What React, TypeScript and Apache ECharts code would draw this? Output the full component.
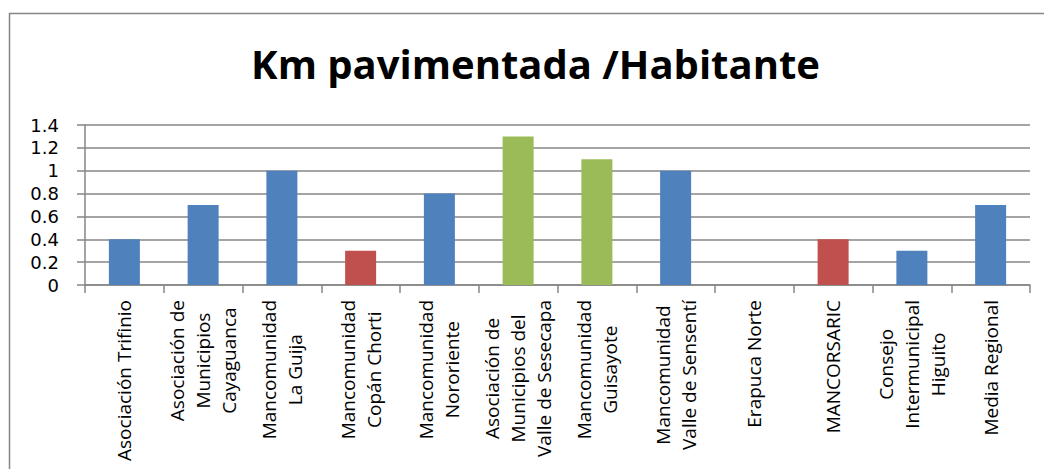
import React, { useEffect, useRef } from "react";
import * as echarts from "echarts";

const title = "Km pavimentada /Habitante";

const categories = [
  "Asociación Trifinio",
  "Asociación de\nMunicipios\nCayaguanca",
  "Mancomunidad\nLa Guija",
  "Mancomunidad\nCopán Chorti",
  "Mancomunidad\nNororiente",
  "Asociación de\nMunicipios del\nValle de Sesecapa",
  "Mancomunidad\nGuisayote",
  "Mancomunidad\nValle de Sensentí",
  "Erapuca Norte",
  "MANCORSARIC",
  "Consejo\nIntermunicipal\nHiguito",
  "Media Regional",
];

const values = [0.4, 0.7, 1.0, 0.3, 0.8, 1.3, 1.1, 1.0, 0, 0.4, 0.3, 0.7];

const groups = ["blue", "blue", "blue", "red", "blue", "green", "green", "blue", "blue", "red", "blue", "blue"];

const yTicks = [0, 0.2, 0.4, 0.6, 0.8, 1, 1.2, 1.4];

const palette: Record<string, string> = {
  blue: "#4F81BD",
  red: "#C0504D",
  green: "#9BBB59",
};

const FONT = "'Open Sans', 'Noto Sans', sans-serif";
const YFONT = "'DejaVu Sans', 'Open Sans', sans-serif";

export default function App() {
  const ref = useRef<HTMLDivElement>(null);
  useEffect(() => {
    document.body.style.margin = "0";
    if (!ref.current) return;
    const chart = echarts.init(ref.current, undefined, { renderer: "svg" });
    const step = yTicks[1] - yTicks[0];
    chart.setOption({
      animation: false,
      backgroundColor: "#ffffff",
      graphic: [
        {
          type: "rect",
          shape: { x: 9.5, y: 13.5, width: 1200, height: 600 },
          style: { fill: "none", stroke: "#868686", lineWidth: 1.5 },
          silent: true,
          z: 0,
        },
        {
          type: "text",
          x: 535.5,
          y: 63,
          style: {
            text: title,
            fontFamily: FONT,
            fontWeight: "bold",
            fontSize: 40,
            fill: "#000000",
            align: "center",
            verticalAlign: "middle",
          },
        },
      ],
      grid: { left: 85, right: 14, top: 125, bottom: 184, containLabel: false },
      xAxis: {
        type: "category",
        data: categories,
        axisLine: { show: true, lineStyle: { color: "#868686", width: 1.5 } },
        axisTick: { show: true, length: 8, lineStyle: { color: "#868686", width: 1.5 } },
        axisLabel: {
          interval: 0,
          rotate: 90,
          margin: 15,
          color: "#000000",
          fontFamily: FONT,
          fontSize: 19,
          lineHeight: 26,
          formatter: (v: string) =>
            v
              .split("\n")
              .map((l) => `{c|${l}}`)
              .join("\n"),
          rich: {
            c: {
              align: "center",
              fontFamily: FONT,
              fontSize: 19,
              lineHeight: 26,
              color: "#000000",
            },
          },
        },
      },
      yAxis: {
        type: "value",
        min: yTicks[0],
        max: yTicks[yTicks.length - 1],
        interval: step,
        axisLine: { show: true, lineStyle: { color: "#868686", width: 1.5 } },
        axisTick: { show: true, length: 8, lineStyle: { color: "#868686", width: 1.5 } },
        splitLine: { show: true, lineStyle: { color: "#868686", width: 1.5 } },
        axisLabel: {
          margin: 26,
          color: "#000000",
          fontFamily: YFONT,
          fontSize: 18,
          lineHeight: 21,
          formatter: (v: number) => String(Math.round(v * 10) / 10),
        },
      },
      series: [
        {
          type: "bar",
          barWidth: 31,
          data: values.map((v, i) => ({
            value: v,
            itemStyle: { color: palette[groups[i]] },
          })),
        },
      ],
    });
    return () => chart.dispose();
  }, []);
  return <div ref={ref} style={{ width: 1044, height: 469 }} />;
}
